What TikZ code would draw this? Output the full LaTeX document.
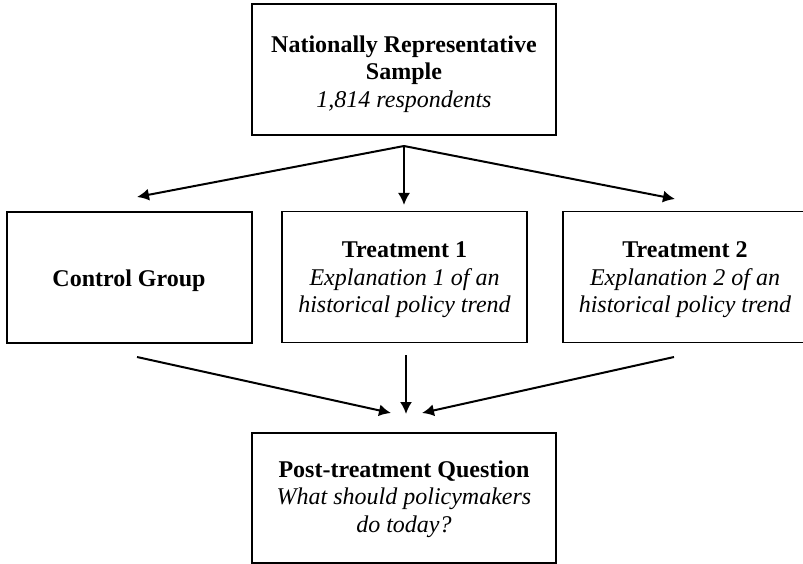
\documentclass[tikz,border=0pt]{standalone}
\usepackage{fontspec}
\setmainfont{Liberation Serif}
\usetikzlibrary{arrows.meta}
\tikzset{
  box/.style={draw, line width=1.8pt, minimum width=245, minimum height=131, inner sep=0pt},
  txt/.style={align=center, font=\fontsize{24}{27.5}\selectfont},
  flow/.style={line width=2pt, -{Latex[length=12pt,width=12pt]}}
}
\begin{document}
\begin{tikzpicture}[x=1pt, y=-1pt]
\useasboundingbox (0,0) rectangle (803,564);

\node[box, minimum width=304] (sample) at (404,69.5) {};
\node[box] (ctrl) at (129.5,277.5) {};
\node[box] (treat1) at (404.5,277) {};
\node[box] (treat2) at (685.5,277) {};
\node[box, minimum width=304, minimum height=130] (post) at (404,498) {};

\node[txt] (sample-txt) at (404,74) {\textbf{Nationally Representative}\\ \textbf{Sample}\\ \textit{1,814 respondents}};
\node[txt] (ctrl-txt) at (129,281) {\textbf{Control Group}};
\node[txt] (treat1-txt) at (404.5,280) {\textbf{Treatment 1}\\ \textit{Explanation 1 of an}\\ \textit{historical policy trend}};
\node[txt] (treat2-txt) at (685,280) {\textbf{Treatment 2}\\ \textit{Explanation 2 of an}\\ \textit{historical policy trend}};
\node[txt] (post-txt) at (404,499) {\textbf{Post-treatment Question}\\ \textit{What should policymakers}\\ \textit{do today?}};

% arrows
\coordinate (fork) at (404,146);
\coordinate (ctrl-in) at (137,197);
\coordinate (treat1-in) at (404,205);
\coordinate (treat2-in) at (675,199);
\coordinate (ctrl-out) at (137,357);
\coordinate (treat1-out) at (406,355);
\coordinate (treat2-out) at (674,357);
\coordinate (ctrl-post) at (391,413);
\coordinate (treat1-post) at (406,414);
\coordinate (treat2-post) at (422,413);

\foreach \g in {ctrl,treat1,treat2}
{
    \draw[flow] (fork)--(\g-in);
    \draw[flow] (\g-out)--(\g-post);
}
\end{tikzpicture}
\end{document}
